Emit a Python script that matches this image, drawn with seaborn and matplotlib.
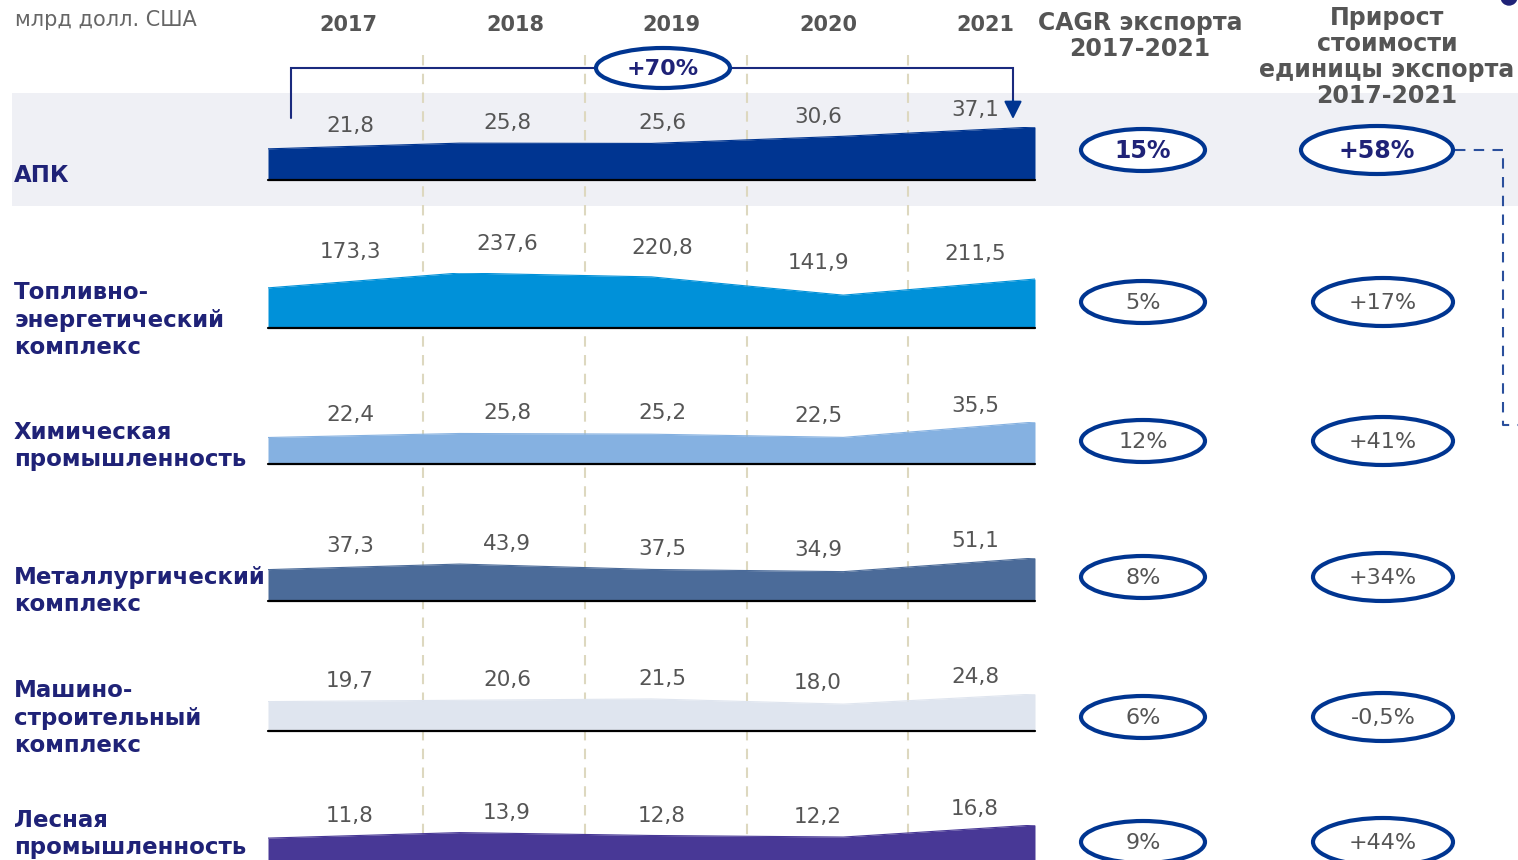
import numpy as np
import matplotlib
matplotlib.use("Agg")
import matplotlib.pyplot as plt
from matplotlib.patches import Ellipse, Rectangle, Circle
import seaborn as sns
import pandas as pd

# ---------------- data ----------------
years = ["2017", "2018", "2019", "2020", "2021"]
sectors = ["АПК",
           "Топливно-\nэнергетический\nкомплекс",
           "Химическая\nпромышленность",
           "Металлургический\nкомплекс",
           "Машино-\nстроительный\nкомплекс",
           "Лесная\nпромышленность"]
apk = [21.8, 25.8, 25.6, 30.6, 37.1]
fuel = [173.3, 237.6, 220.8, 141.9, 211.5]
chem = [22.4, 25.8, 25.2, 22.5, 35.5]
metal = [37.3, 43.9, 37.5, 34.9, 51.1]
mach = [19.7, 20.6, 21.5, 18.0, 24.8]
forest = [11.8, 13.9, 12.8, 12.2, 16.8]
series = [apk, fuel, chem, metal, mach, forest]
cagr = ["15%", "5%", "12%", "8%", "6%", "9%"]
unit_growth = ["+58%", "+17%", "+41%", "+34%", "-0,5%", "+44%"]
apk_growth = "+70%"
unit_text = "млрд долл. США"
cagr_title = "CAGR экспорта\n2017-2021"
unit_title = "Прирост\nстоимости\nединицы экспорта\n2017-2021"

# ---------------- style ----------------
sns.set_theme(style="white")
plt.rcParams['font.family'] = ['DejaVu Sans']

W, H = 1518, 860
colors = ["#003591", "#0091d9", "#85b1e1", "#4b6b99", "#dfe5ef", "#483896"]
baselines = [180, 328, 464, 601, 731, 869]
max_h = [53, 55, 42, 43, 37, 44]
lab_off = [20, 30, 21, 21, 20, 20]
sector_y = [175, 320, 446, 591, 718, 834]
ell_y = [150, 302, 441, 577, 717, 842]
area_x0, area_x1 = 268, 1035
col_centers = [350, 507, 662, 818, 975]
year_x = [348, 515, 671, 828, 985]
dividers = [423, 585, 747, 908]
NAVY = "#1f2277"
RING = "#003591"
GRAY = "#555555"

fig = plt.figure(figsize=(W / 100, H / 100), dpi=100)


def px_axes(x0, y_top, x1, y_bot):
    return fig.add_axes([x0 / W, 1 - y_bot / H, (x1 - x0) / W, (y_bot - y_top) / H])


# background layer
bg = fig.add_axes([0, 0, 1, 1])
bg.set_xlim(0, W)
bg.set_ylim(H, 0)
bg.axis("off")
bg.set_zorder(0)
bg.add_patch(Rectangle((12, 93), W - 12, 113, color="#eff0f5", lw=0))
for x in dividers:
    bg.plot([x, x], [55, H], color="#ddd8bf", lw=1.5, dashes=(5, 4))

# area rows
for i, vals in enumerate(series):
    base, h = baselines[i], max_h[i]
    ax = px_axes(area_x0, base - h, area_x1, base)
    ax.set_zorder(1)
    ax.patch.set_alpha(0)
    df = pd.DataFrame({"x": np.arange(len(vals)), "value": vals})
    sns.lineplot(data=df, x="x", y="value", ax=ax, color=colors[i], lw=0.8, legend=False)
    ax.fill_between(df["x"], 0, df["value"], color=colors[i], lw=0)
    ax.axhline(0, color="black", lw=1.6, clip_on=False)
    ax.set_xlim(0, len(vals) - 1)
    ax.set_ylim(0, max(vals))
    ax.axis("off")

# overlay layer
ov = fig.add_axes([0, 0, 1, 1])
ov.set_xlim(0, W)
ov.set_ylim(H, 0)
ov.axis("off")
ov.set_zorder(2)
ov.patch.set_alpha(0)

step = (area_x1 - area_x0) / 4
for i, vals in enumerate(series):
    base, h = baselines[i], max_h[i]
    for j, cx in enumerate(col_centers):
        xd = (cx - area_x0) / step
        v = np.interp(xd, np.arange(len(vals)), vals)
        top = base - h * v / max(vals)
        ov.text(cx, top - lab_off[i], f"{vals[j]:.1f}".replace(".", ","),
                ha="center", va="center", fontsize=15.5, color=GRAY)
    ov.text(14, sector_y[i], sectors[i], ha="left", va="center", fontsize=16.5,
            fontweight="bold", color=NAVY, linespacing=1.25)
    first = i == 0
    ov.add_patch(Ellipse((1143, ell_y[i]), 124, 42, fill=True, fc="white",
                         ec=RING, lw=3, zorder=3))
    ov.text(1143, ell_y[i] + 1, cagr[i], ha="center", va="center",
            fontsize=17 if first else 16, fontweight="heavy" if first else "normal",
            color=NAVY if first else GRAY, zorder=4)
    ux = 1377 if first else 1383
    ov.add_patch(Ellipse((ux, ell_y[i]), 152 if first else 140,
                         48, fill=True, fc="white", ec=RING, lw=3, zorder=3))
    ov.text(ux, ell_y[i] + 1, unit_growth[i], ha="center",
            va="center", fontsize=17 if first else 16,
            fontweight="heavy" if first else "normal", color=NAVY if first else GRAY,
            zorder=4)

# headers
ov.text(15, 20, unit_text, ha="left", va="center", fontsize=15, color="#666666")
for x, y in zip(year_x, years):
    ov.text(x, 25, y, ha="center", va="center", fontsize=15, fontweight="bold", color=GRAY)
ov.text(1140, 36, cagr_title, ha="center", va="center", fontsize=17, fontweight="bold",
        color=GRAY, linespacing=1.1)
ov.text(1387, 57, unit_title, ha="center", va="center", fontsize=17, fontweight="bold",
        color=GRAY, linespacing=1.12)

# +70% bracket
ov.plot([291, 291, 1013, 1013], [118, 68, 68, 104], color="#1a2a7e", lw=1.5,
        solid_joinstyle="miter", zorder=2)
ov.annotate("", xy=(1013, 119), xytext=(1013, 100),
            arrowprops=dict(arrowstyle="-|>,head_width=0.45,head_length=0.9",
                            color=RING, lw=1.5, shrinkA=0, shrinkB=0))
ov.add_patch(Ellipse((663, 68), 134, 40, fc="white", ec=RING, lw=3, zorder=3))
ov.text(663, 69, apk_growth, ha="center", va="center", fontsize=16, fontweight="heavy",
        color=NAVY, zorder=4)

# dashed connector
ov.plot([1455, 1503, 1503, W], [150, 150, 425, 425], color="#2a4f9c", lw=1.5,
        dashes=(5, 4), zorder=2)
ov.add_patch(Circle((1509, -3), 8, color="#1f2277", clip_on=True))

fig.savefig("out.png", dpi=100)
